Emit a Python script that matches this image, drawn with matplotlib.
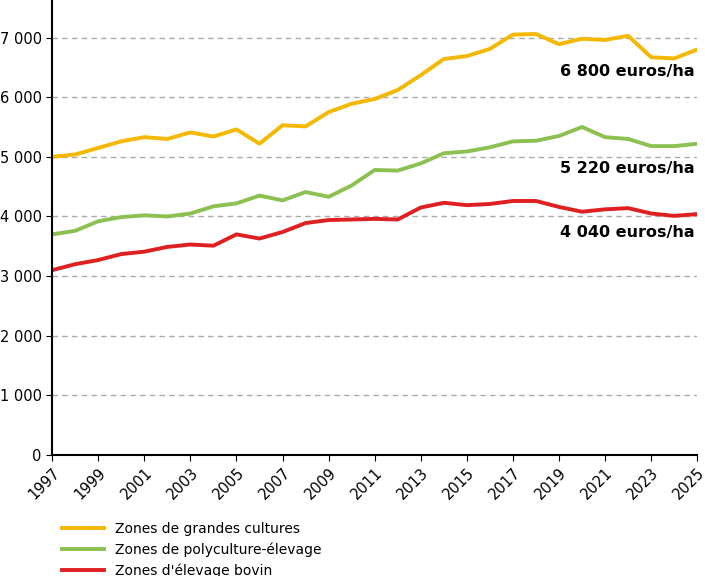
import matplotlib
matplotlib.use("Agg")
import matplotlib.pyplot as plt
from matplotlib.ticker import FuncFormatter

years = list(range(1997, 2026))
grandes_cultures = [5000, 5040, 5150, 5260, 5330, 5300, 5410, 5340, 5460, 5220,
                    5530, 5510, 5750, 5890, 5970, 6120, 6370, 6640, 6690, 6810,
                    7050, 7060, 6890, 6980, 6960, 7030, 6670, 6650, 6800]
polyculture = [3700, 3760, 3920, 3990, 4020, 4000, 4050, 4170, 4220, 4350,
               4270, 4410, 4330, 4520, 4780, 4770, 4890, 5060, 5090, 5160,
               5260, 5270, 5350, 5500, 5330, 5300, 5180, 5180, 5220]
bovin = [3100, 3200, 3270, 3370, 3410, 3490, 3530, 3510, 3700, 3630,
         3740, 3890, 3940, 3950, 3960, 3950, 4150, 4230, 4190, 4210,
         4260, 4260, 4160, 4080, 4120, 4140, 4050, 4010, 4040]
labels = ["6 800 euros/ha", "5 220 euros/ha", "4 040 euros/ha"]
label_y = [6430, 4800, 3730]

fig = plt.figure(figsize=(7.05, 5.76), dpi=100)
ax = fig.add_axes([0.074, 0.21, 0.915, 0.79])

ax.plot(years, grandes_cultures, color="#f5b800", lw=2.8, label="Zones de grandes cultures")
ax.plot(years, polyculture, color="#8cc152", lw=2.8, label="Zones de polyculture-élevage")
ax.plot(years, bovin, color="#e02020", lw=2.8, label="Zones d'élevage bovin")

for txt, yv in zip(labels, label_y):
    ax.text(2024.9, yv, txt, ha="right", va="center", fontsize=11.5, fontweight="bold")

ax.set_xlim(1997, 2025)
ax.set_ylim(0, 7630)
ax.set_xticks(years[::2])
ax.set_xticklabels([str(y) for y in years[::2]], rotation=45, ha="right", rotation_mode="anchor", fontsize=10.5)
ax.set_yticks(range(0, 8000, 1000))
ax.yaxis.set_major_formatter(FuncFormatter(lambda v, p: f"{int(v):,}".replace(",", " ")))
ax.tick_params(axis="y", labelsize=10.5, direction="out", length=4)
ax.tick_params(axis="x", direction="out", length=4)
ax.yaxis.grid(True, linestyle=(0, (4, 3)), color="#aaaaaa", lw=1)
ax.set_axisbelow(True)
for s in ["top", "right"]:
    ax.spines[s].set_visible(False)
ax.spines["left"].set_linewidth(1.5)
ax.spines["bottom"].set_linewidth(1.5)

fig.legend(loc="upper left", bbox_to_anchor=(0.07, 0.115), frameon=False,
           fontsize=10, handlelength=3, labelspacing=0.45)

fig.savefig("out.png", dpi=100)
